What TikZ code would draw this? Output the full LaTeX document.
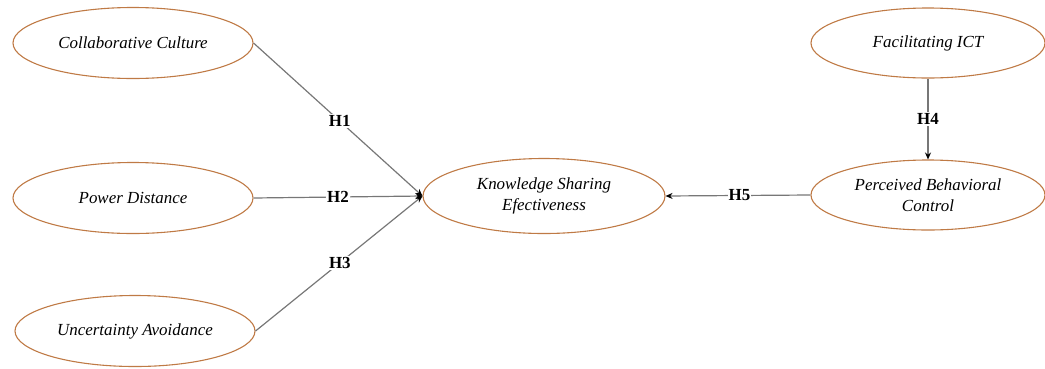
\documentclass[tikz,border=0pt]{standalone}
\usepackage{fontspec}
\setmainfont{Liberation Serif}
\usetikzlibrary{shapes.geometric,arrows.meta}
\definecolor{ellcol}{HTML}{BF7A45}
\definecolor{lncol}{HTML}{777777}
\tikzset{
  construct/.style={ellipse, draw=ellcol, line width=1.1pt, minimum width=240bp, minimum height=71bp, inner sep=0pt, align=center, font=\fontsize{17}{21}\selectfont\itshape},
  hyp/.style={fill=white, inner sep=1pt, font=\fontsize{17}{18}\selectfont\bfseries},
  link/.style={draw=lncol, line width=1.2pt},
  arrowlink/.style={link, -{Stealth[length=7pt,width=6pt,color=black]}}
}
\begin{document}
\begin{tikzpicture}[x=1bp,y=-1bp]
\useasboundingbox (0,0) rectangle (1045,368);
\node[construct] (cc) at (133,43) {Collaborative Culture};
\node[construct] (pd) at (133,198) {Power Distance};
\node[construct] (ua) at (135,331) {Uncertainty Avoidance};
\node[construct, minimum width=242bp, minimum height=75bp] (kse) at (544,196) {Knowledge Sharing\\Efectiveness};
\node[construct, minimum width=234bp, minimum height=70bp] (ict) at (928,43) {Facilitating ICT};
\node[construct, minimum width=234bp, minimum height=70bp] (pbc) at (928,195) {Perceived Behavioral\\Control};
\draw[arrowlink] (cc.east) -- node[hyp, pos=0.51] {H1} (kse.west);
\draw[arrowlink] (pd.east) -- node[hyp, pos=0.5] {H2} (kse.west);
\draw[arrowlink] (ua.east) -- node[hyp, pos=0.505] {H3} (kse.west);
\draw[arrowlink] (ict.south) -- node[hyp] {H4} (pbc.north);
\draw[arrowlink] (pbc.west) -- node[hyp, pos=0.49] {H5} (kse.east);
\end{tikzpicture}
\end{document}
